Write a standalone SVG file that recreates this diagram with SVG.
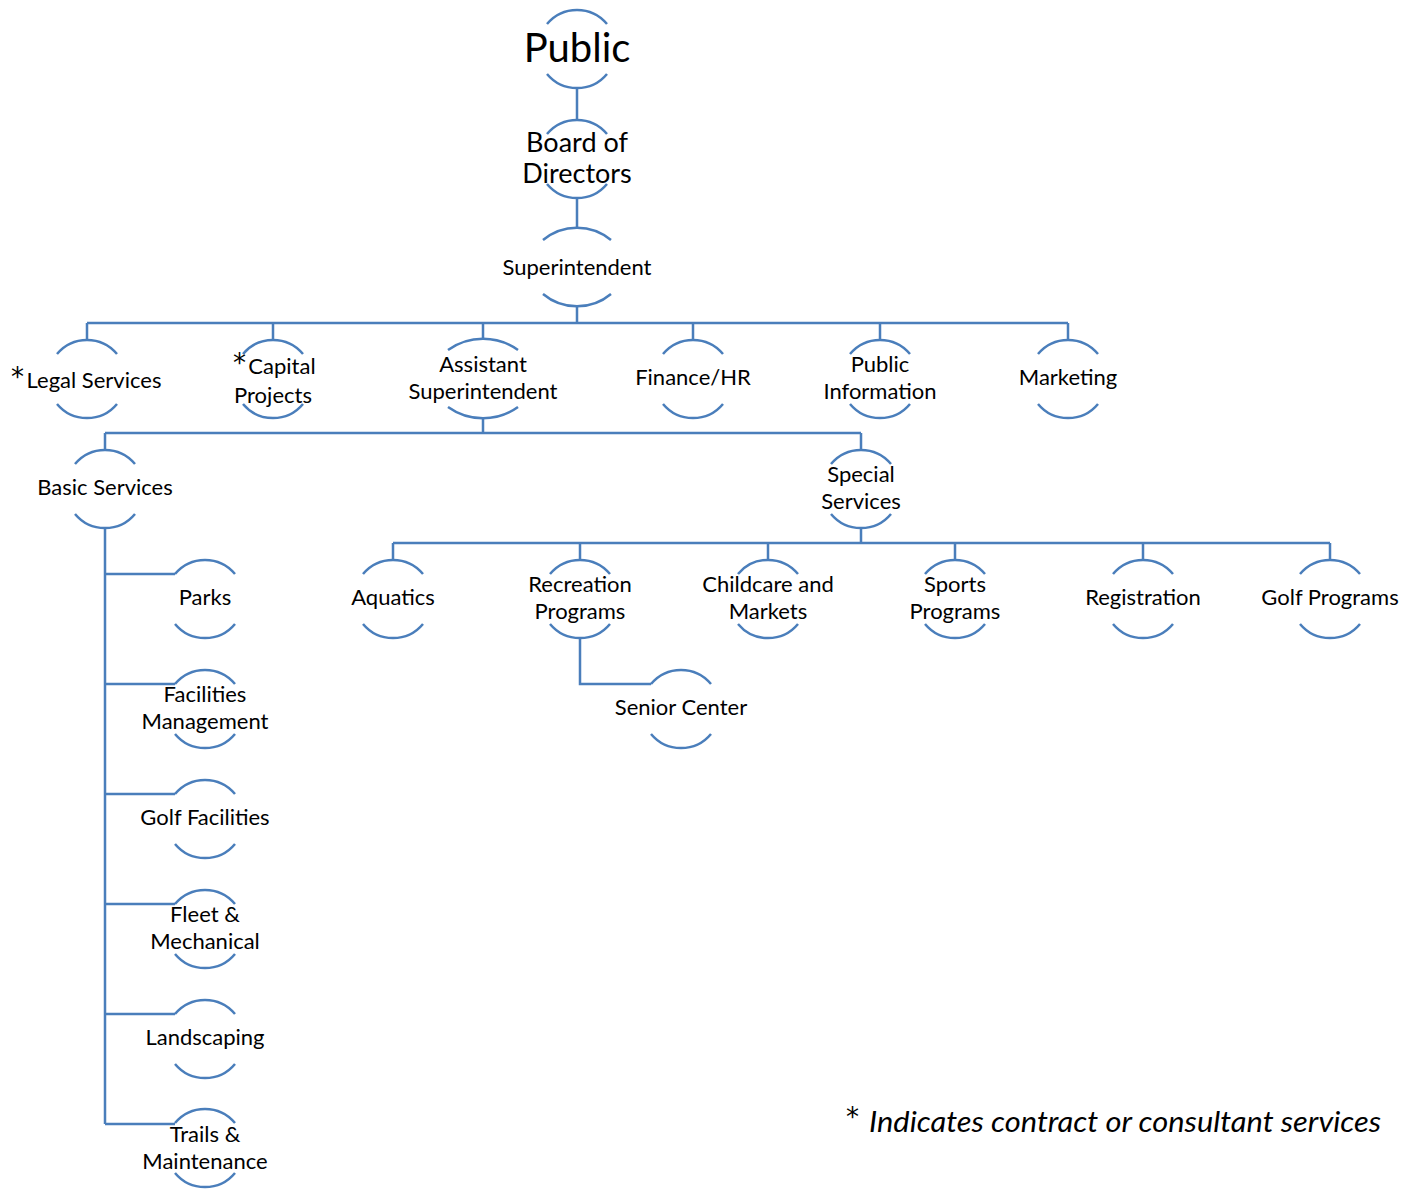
<svg xmlns="http://www.w3.org/2000/svg" width="1408" height="1189" viewBox="0 0 1408 1189">
<style>
.arc{fill:none;stroke:#4a7ebb;stroke-width:2.5}
.con{fill:none;stroke:#4a7ebb;stroke-width:2.5}
text{font-family:Lato,"Liberation Sans",sans-serif;fill:#000;text-anchor:middle}
.t{font-size:22px}
.big{font-size:40px}
.mid{font-size:27px}
.star{font-family:"DejaVu Sans",sans-serif;font-size:26px;text-anchor:start}
.note{font-size:28px;font-style:italic;text-anchor:start}
</style>
<defs>
<path id="n" class="arc" d="M-30 -25 A39 39 0 0 1 30 -25 M-30 25 A39 39 0 0 0 30 25"/>
</defs>
<rect width="1408" height="1189" fill="#fff"/>
<g id="connectors" class="con">
<path d="M577 88V121M577 198V229M577 306V323M87 323H1068M87 323V340M273 323V340M483 323V340M693 323V340M880 323V340M1068 323V340"/>
<path d="M483 418V433M105 433H861M105 433V450M861 433V450"/>
<path d="M861 528V543M393 543H1330M393 543V560M580 543V560M768 543V560M955 543V560M1143 543V560M1330 543V560"/>
<path d="M105 528V1124M105 574H175M105 684H175M105 794H175M105 904H175M105 1014H175M105 1124H175"/>
<path d="M580 637V684H651"/>
</g>
<g id="public"><use href="#n" x="577" y="49"/><text class="big" x="577" y="62">Public</text></g>
<g id="board"><use href="#n" x="577" y="159"/><text class="mid" x="577" y="152">Board of</text><text class="mid" x="577" y="183">Directors</text></g>
<g id="superintendent"><path class="arc" d="M543 240A53 53 0 0 1 611 240M543 294A53 53 0 0 0 611 294"/><text class="t" x="577" y="275">Superintendent</text></g>
<g id="legal"><use href="#n" x="87" y="379"/><text class="star" x="11" y="386">*</text><text class="t" x="94" y="388">Legal Services</text></g>
<g id="capital"><use href="#n" x="273" y="379"/><text class="star" x="233" y="372">*</text><text class="t" x="282" y="374">Capital</text><text class="t" x="273" y="403">Projects</text></g>
<g id="assistant"><path class="arc" d="M448 350A60 60 0 0 1 518 350M448 407A60 60 0 0 0 518 407"/><text class="t" x="483" y="372">Assistant</text><text class="t" x="483" y="399">Superintendent</text></g>
<g id="finance"><use href="#n" x="693" y="379"/><text class="t" x="693" y="385">Finance/HR</text></g>
<g id="publicinfo"><use href="#n" x="880" y="379"/><text class="t" x="880" y="372">Public</text><text class="t" x="880" y="399">Information</text></g>
<g id="marketing"><use href="#n" x="1068" y="379"/><text class="t" x="1068" y="385">Marketing</text></g>
<g id="basic"><use href="#n" x="105" y="489"/><text class="t" x="105" y="495">Basic Services</text></g>
<g id="special"><use href="#n" x="861" y="489"/><text class="t" x="861" y="482">Special</text><text class="t" x="861" y="509">Services</text></g>
<g id="aquatics"><use href="#n" x="393" y="599"/><text class="t" x="393" y="605">Aquatics</text></g>
<g id="recreation"><use href="#n" x="580" y="599"/><text class="t" x="580" y="592">Recreation</text><text class="t" x="580" y="619">Programs</text></g>
<g id="childcare"><use href="#n" x="768" y="599"/><text class="t" x="768" y="592">Childcare and</text><text class="t" x="768" y="619">Markets</text></g>
<g id="sports"><use href="#n" x="955" y="599"/><text class="t" x="955" y="592">Sports</text><text class="t" x="955" y="619">Programs</text></g>
<g id="registration"><use href="#n" x="1143" y="599"/><text class="t" x="1143" y="605">Registration</text></g>
<g id="golfprograms"><use href="#n" x="1330" y="599"/><text class="t" x="1330" y="605">Golf Programs</text></g>
<g id="senior"><use href="#n" x="681" y="709"/><text class="t" x="681" y="715">Senior Center</text></g>
<g id="parks"><use href="#n" x="205" y="599"/><text class="t" x="205" y="605">Parks</text></g>
<g id="facilities"><use href="#n" x="205" y="709"/><text class="t" x="205" y="702">Facilities</text><text class="t" x="205" y="729">Management</text></g>
<g id="golffacilities"><use href="#n" x="205" y="819"/><text class="t" x="205" y="825">Golf Facilities</text></g>
<g id="fleet"><use href="#n" x="205" y="929"/><text class="t" x="205" y="922">Fleet &amp;</text><text class="t" x="205" y="949">Mechanical</text></g>
<g id="landscaping"><use href="#n" x="205" y="1039"/><text class="t" x="205" y="1045">Landscaping</text></g>
<g id="trails"><use href="#n" x="205" y="1148"/><text class="t" x="205" y="1142">Trails &amp;</text><text class="t" x="205" y="1169">Maintenance</text></g>
<g id="footnote"><text class="star" x="846" y="1126">*</text><text class="note" x="869" y="1132" textLength="512" lengthAdjust="spacingAndGlyphs">Indicates contract or consultant services</text></g>
</svg>
